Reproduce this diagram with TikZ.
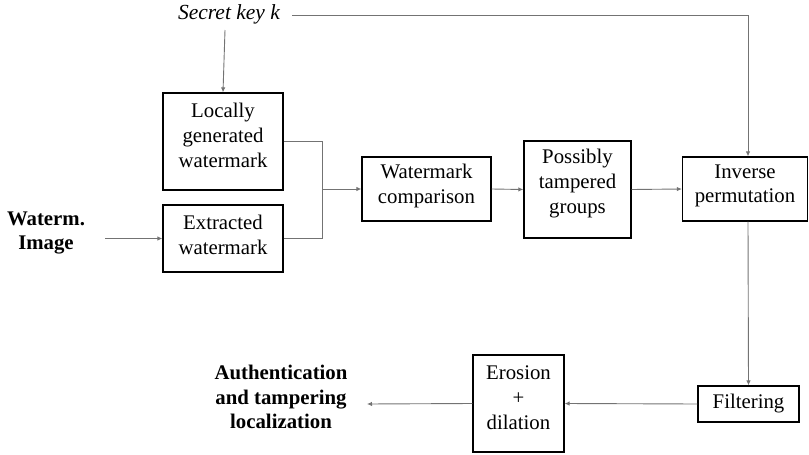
\documentclass[tikz,border=0pt]{standalone}
\usepackage{fontspec}
\setmainfont{Liberation Serif}
\usetikzlibrary{arrows.meta}
\begin{document}
\begin{tikzpicture}[x=1pt,y=-1pt,
  box/.style={draw=black,line width=1.3pt,inner sep=0pt},
  lbl/.style={align=center,inner sep=0pt,font=\fontsize{20.8}{24.8}\selectfont},
  conn/.style={draw=black!55,line width=0.9pt,-{Latex[length=5pt,width=4.5pt]}},
  plain/.style={draw=black!55,line width=0.9pt}]
\useasboundingbox (0,0) rectangle (809,455);
\node[box,minimum width=120pt,minimum height=97pt] (loc) at (223,141.5) {};
\node[box,minimum width=120pt,minimum height=67pt] (ext) at (223,238.5) {};
\node[box,minimum width=129pt,minimum height=64pt] (cmp) at (426.5,189) {};
\node[box,minimum width=107pt,minimum height=97pt] (pos) at (577.5,189.5) {};
\node[box,minimum width=125pt,minimum height=64pt] (inv) at (745,189) {};
\node[box,minimum width=101pt,minimum height=36pt] (fil) at (748.5,404) {};
\node[box,minimum width=91pt,minimum height=97pt] (ero) at (518.5,403.5) {};
\node[lbl] (loct) at ([yshift=6pt]loc.center) {Locally\\generated\\watermark};
\node[lbl] (extt) at ([yshift=4pt]ext.center) {Extracted\\watermark};
\node[lbl] (cmpt) at ([yshift=3pt]cmp.center) {Watermark\\comparison};
\node[lbl] (post) at ([yshift=6pt]pos.center) {Possibly\\tampered\\groups};
\node[lbl] (invt) at ([yshift=3pt]inv.center) {Inverse\\permutation};
\node[lbl] (filt) at ([yshift=0pt]fil.center) {Filtering};
\node[lbl] (erot) at ([yshift=6pt]ero.center) {Erosion\\+\\dilation};
\node[lbl,font=\fontsize{21.5}{24.8}\selectfont\itshape] (key) at (229,14) {Secret key \textit{k}};
\node[lbl,font=\fontsize{20.8}{24.8}\selectfont\bfseries] (wim) at (46,233) {Waterm.\\Image};
\node[lbl,font=\fontsize{20.8}{24.8}\selectfont\bfseries] (auth) at (281,397) {Authentication\\and tampering\\localization};
\coordinate (j) at (322,189);
\coordinate (ws) at (105,238.5);
\coordinate (out) at (367,404);
\coordinate (kd) at (225,30);
\coordinate (ks) at (292,15);
\draw[conn] (kd) -- (loc.north);
\draw[conn] (ks) -| ([xshift=3pt]inv.north);
\draw[plain] (loc.east) -| (j);
\draw[plain] (ext.east) -| (j);
\draw[conn] (j) -- (cmp.west);
\draw[conn] (ws) -- (ext.west);
\draw[conn] (cmp.east) -- (pos.west);
\draw[conn] (pos.east) -- (inv.west);
\draw[conn] ([xshift=3pt]inv.south) -- (fil.north);
\draw[conn] (fil.west) -- (ero.east);
\draw[conn] (ero.west) -- (out);
\end{tikzpicture}
\end{document}
